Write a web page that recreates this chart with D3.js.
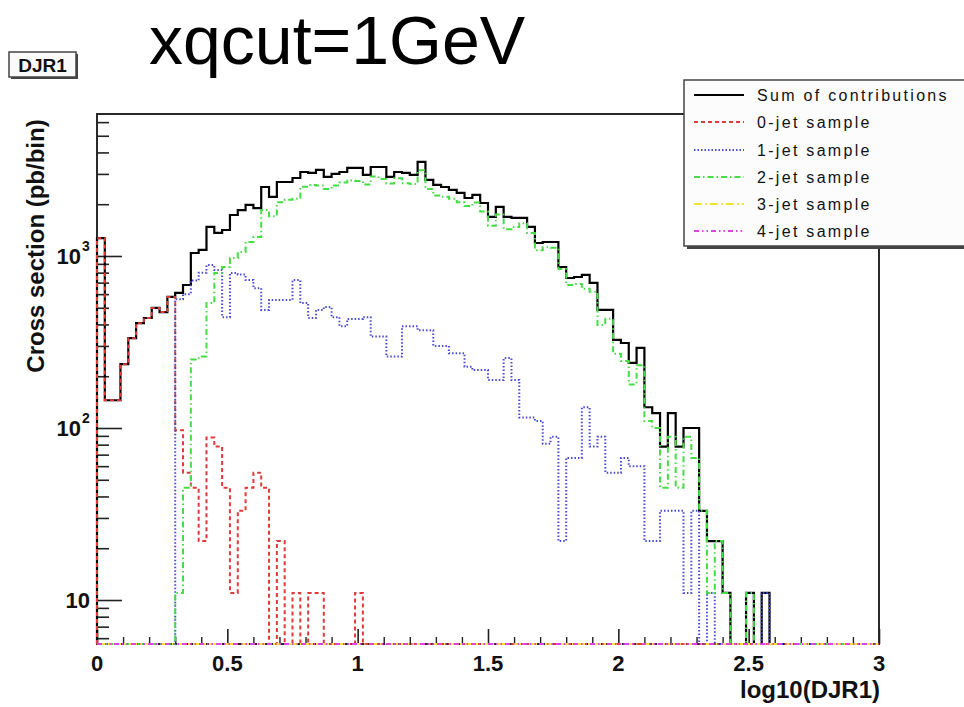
<!DOCTYPE html>
<html>
<head>
<meta charset="utf-8">
<script src="https://cdn.jsdelivr.net/npm/d3@7"></script>
<style>
  html, body { margin: 0; padding: 0; background: #ffffff; }
  svg { display: block; }
  text { font-family: "Liberation Sans", Arial, Helvetica, sans-serif; }
</style>
</head>
<body>
<svg id="chart" width="964" height="707"></svg>
<script>
// ---------------- DATA ----------------
const chartTitle = "xqcut=1GeV";
const histName = "DJR1";
const xTitle = "log10(DJR1)";
const yTitle = "Cross section (pb/bin)";
const xRange = [0, 3];
const binWidth = 0.03;           // 100 bins between 0 and 3
const xMajorTicks = [0, 0.5, 1, 1.5, 2, 2.5, 3];
const xTickLabels = ["0", "0.5", "1", "1.5", "2", "2.5", "3"];
const yMajorTicks = [10, 100, 1000];
const yTickBase = ["10", "10", "10"];
const yTickExp = ["", "2", "3"];
const seriesNames = ["Sum of contributions", "0-jet sample", "1-jet sample", "2-jet sample", "3-jet sample", "4-jet sample"];

const sumValues = [
  1270, 145, 145, 235, 333, 407, 436, 499, 472, 578,
  610, 678, 1041, 1084, 1475, 1361, 1416, 1731, 1850, 1981,
  1900, 2518, 2204, 2692, 2692, 2840, 3078, 3040, 3163, 2880,
  2999, 3078, 3250, 3250, 2958, 3290, 3290, 2880, 3078, 3040,
  2958, 3523, 2768, 2589, 2518, 2421, 2325, 2173, 2263, 2032,
  1686, 1928, 1686, 1664, 1664, 1475, 1190, 1206, 1206, 863,
  745, 755, 776, 697, 486, 486, 325, 312, 239, 292,
  132, 122, 78, 122, 78, 100, 100, 33, 22, 22,
  11, 0, 0, 11, 0, 11, 0, 0, 0, 0,
  0, 0, 0, 0, 0, 0, 0, 0, 0, 0
];
const jet0Values = [
  1270, 145, 145, 235, 333, 407, 436, 499, 472, 578,
  97, 55, 45, 22, 88, 78, 45, 11, 33, 45,
  55, 45, 0, 22, 0, 11, 0, 11, 11, 0,
  0, 0, 0, 11, 0, 0, 0, 0, 0, 0,
  0, 0, 0, 0, 0, 0, 0, 0, 0, 0,
  0, 0, 0, 0, 0, 0, 0, 0, 0, 0,
  0, 0, 0, 0, 0, 0, 0, 0, 0, 0,
  0, 0, 0, 0, 0, 0, 0, 0, 0, 0,
  0, 0, 0, 0, 0, 0, 0, 0, 0, 0,
  0, 0, 0, 0, 0, 0, 0, 0, 0, 0
];
const jet1Values = [
  0, 0, 0, 0, 0, 0, 0, 0, 0, 0,
  560, 600, 720, 800, 885, 830, 441, 796, 780, 725,
  650, 486, 555, 555, 555, 725, 533, 436, 486, 505,
  441, 390, 430, 430, 441, 340, 340, 260, 260, 390,
  390, 370, 370, 300, 300, 272, 272, 227, 217, 217,
  190, 190, 255, 190, 115, 115, 110, 81, 89, 22,
  67, 67, 132, 78, 89, 55, 55, 67, 60, 60,
  22, 22, 33, 33, 33, 11, 33, 0, 11, 0,
  0, 0, 0, 0, 0, 11, 0, 0, 0, 0,
  0, 0, 0, 0, 0, 0, 0, 0, 0, 0
];
const jet2Values = [
  0, 0, 0, 0, 0, 0, 0, 0, 0, 0,
  11, 45, 250, 260, 533, 796, 863, 973, 1055, 1206,
  1290, 1850, 1700, 2050, 2120, 2150, 2530, 2590, 2570, 2450,
  2570, 2670, 2750, 2730, 2600, 2900, 2800, 2640, 2830, 2650,
  2620, 3150, 2450, 2250, 2210, 2150, 2050, 1950, 2045, 1815,
  1500, 1740, 1430, 1475, 1550, 1360, 1080, 1125, 1117, 841,
  678, 688, 644, 619, 397, 431, 270, 245, 179, 232,
  110, 100, 45, 89, 45, 89, 67, 33, 11, 22,
  11, 0, 0, 11, 0, 0, 0, 0, 0, 0,
  0, 0, 0, 0, 0, 0, 0, 0, 0, 0
];
const jet3Values = [
  0, 0, 0, 0, 0, 0, 0, 0, 0, 0,
  0, 0, 0, 0, 0, 0, 0, 0, 0, 0,
  0, 0, 0, 0, 0, 0, 0, 0, 0, 0,
  0, 0, 0, 0, 0, 0, 0, 0, 0, 0,
  0, 0, 0, 0, 0, 0, 0, 0, 0, 0,
  0, 0, 0, 0, 0, 0, 0, 0, 0, 0,
  0, 0, 0, 0, 0, 0, 0, 0, 0, 0,
  0, 0, 0, 0, 0, 0, 0, 0, 0, 0,
  0, 0, 0, 0, 0, 0, 0, 0, 0, 0,
  0, 0, 0, 0, 0, 0, 0, 0, 0, 0
];
const jet4Values = [
  0, 0, 0, 0, 0, 0, 0, 0, 0, 0,
  0, 0, 0, 0, 0, 0, 0, 0, 0, 0,
  0, 0, 0, 0, 0, 0, 0, 0, 0, 0,
  0, 0, 0, 0, 0, 0, 0, 0, 0, 0,
  0, 0, 0, 0, 0, 0, 0, 0, 0, 0,
  0, 0, 0, 0, 0, 0, 0, 0, 0, 0,
  0, 0, 0, 0, 0, 0, 0, 0, 0, 0,
  0, 0, 0, 0, 0, 0, 0, 0, 0, 0,
  0, 0, 0, 0, 0, 0, 0, 0, 0, 0,
  0, 0, 0, 0, 0, 0, 0, 0, 0, 0
];

// ---------------- STYLE ----------------
const styles = [
  { color: "#000000", width: 2.2, dash: null },
  { color: "#e03a3a", width: 2, dash: "4,3" },
  { color: "#4a4ad8", width: 2, dash: "1.5,2" },
  { color: "#44dd44", width: 2, dash: "6,3,1.5,3" },
  { color: "#f0e43a", width: 2, dash: "8,3,2,3" },
  { color: "#dd44dd", width: 2, dash: "5,3,1.5,3,1.5,3" }
];
const allSeries = [sumValues, jet0Values, jet1Values, jet2Values, jet3Values, jet4Values];

const frame = { left: 97, right: 879, top: 114, bottom: 644 };

const svg = d3.select("#chart");
svg.append("rect").attr("x", 0).attr("y", 0).attr("width", 964).attr("height", 707).attr("fill", "#ffffff");

const x = d3.scaleLinear().domain(xRange).range([frame.left, frame.right]);
const y = d3.scaleLog().domain([5.55, 6690]).range([frame.bottom, frame.top]);

// histogram step path; empty bins drop to the bottom of the frame
function histPath(values) {
  const p = d3.path();
  const yb = frame.bottom;
  p.moveTo(x(xRange[0]), yb);
  values.forEach((v, i) => {
    const lo = xRange[0] + i * binWidth, hi = lo + binWidth;
    const yy = v > 0 ? Math.max(frame.top, Math.min(yb, y(v))) : yb;
    p.lineTo(x(lo), yy);
    p.lineTo(x(hi), yy);
  });
  p.lineTo(x(xRange[1]), yb);
  return p.toString();
}

// frame
svg.append("rect")
  .attr("x", frame.left).attr("y", frame.top)
  .attr("width", frame.right - frame.left).attr("height", frame.bottom - frame.top)
  .attr("fill", "none").attr("stroke", "#2a2a2a").attr("stroke-width", 2);

// y axis ticks (inside the frame)
const yMinor = y.ticks().filter(t => yMajorTicks.indexOf(t) < 0);
svg.append("g").attr("transform", `translate(${frame.left},0)`)
  .call(d3.axisLeft(y).tickValues(yMinor).tickSize(-12).tickFormat(""))
  .call(g => g.select(".domain").remove())
  .call(g => g.selectAll("line").attr("stroke", "#222").attr("stroke-width", 1.6));
svg.append("g").attr("transform", `translate(${frame.left},0)`)
  .call(d3.axisLeft(y).tickValues(yMajorTicks).tickSize(-25).tickFormat(""))
  .call(g => g.select(".domain").remove())
  .call(g => g.selectAll("line").attr("stroke", "#222").attr("stroke-width", 1.6));

// x axis ticks (inside, pointing up)
const xMinor = x.ticks(30).filter(t => xMajorTicks.indexOf(+t.toFixed(2)) < 0);
svg.append("g").attr("transform", `translate(0,${frame.bottom})`)
  .call(d3.axisBottom(x).tickValues(xMinor).tickSize(-7).tickFormat(""))
  .call(g => g.select(".domain").remove())
  .call(g => g.selectAll("line").attr("stroke", "#222").attr("stroke-width", 1.4));
svg.append("g").attr("transform", `translate(0,${frame.bottom})`)
  .call(d3.axisBottom(x).tickValues(xMajorTicks).tickSize(-15).tickFormat(""))
  .call(g => g.select(".domain").remove())
  .call(g => g.selectAll("line").attr("stroke", "#222").attr("stroke-width", 1.6));

// histograms
allSeries.forEach((vals, k) => {
  const s = styles[k];
  const path = svg.append("path")
    .attr("d", histPath(vals))
    .attr("fill", "none")
    .attr("stroke", s.color)
    .attr("stroke-width", s.width)
    .attr("stroke-linejoin", "miter");
  if (s.dash) path.attr("stroke-dasharray", s.dash);
});

// x tick labels
svg.append("g").selectAll("text").data(xMajorTicks).join("text")
  .attr("x", d => x(d)).attr("y", 671)
  .attr("text-anchor", "middle")
  .attr("font-size", 22).attr("font-weight", "bold").attr("fill", "#111")
  .text((d, i) => xTickLabels[i]);

// y tick labels with superscripts
yMajorTicks.forEach((t, i) => {
  const yy = y(t);
  if (yTickExp[i]) {
    svg.append("text").attr("x", 81).attr("y", yy + 8)
      .attr("text-anchor", "end").attr("font-size", 22).attr("font-weight", "bold").attr("fill", "#111")
      .text(yTickBase[i]);
    svg.append("text").attr("x", 82).attr("y", yy - 5)
      .attr("text-anchor", "start").attr("font-size", 14).attr("font-weight", "bold").attr("fill", "#111")
      .text(yTickExp[i]);
  } else {
    svg.append("text").attr("x", 90).attr("y", yy + 8)
      .attr("text-anchor", "end").attr("font-size", 22).attr("font-weight", "bold").attr("fill", "#111")
      .text(yTickBase[i]);
  }
});

// axis titles
svg.append("text").attr("x", 880).attr("y", 698)
  .attr("text-anchor", "end").attr("font-size", 24).attr("font-weight", "bold").attr("fill", "#111")
  .text(xTitle);
svg.append("text")
  .attr("transform", "translate(44,246) rotate(-90)")
  .attr("text-anchor", "middle").attr("font-size", 24).attr("font-weight", "bold").attr("fill", "#111")
  .text(yTitle);

// legend box with shadow
const lg = { x: 684, y: 80, w: 300, h: 166 };
svg.append("rect").attr("x", lg.x + 3).attr("y", lg.y + 3).attr("width", lg.w).attr("height", lg.h).attr("fill", "#444");
svg.append("rect").attr("x", lg.x).attr("y", lg.y).attr("width", lg.w).attr("height", lg.h)
  .attr("fill", "#fcfcfc").attr("stroke", "#444").attr("stroke-width", 1.5);
const rowY = [95, 122, 150, 177, 204, 231];
seriesNames.forEach((name, k) => {
  const s = styles[k];
  const l = svg.append("line").attr("x1", 694).attr("x2", 744).attr("y1", rowY[k]).attr("y2", rowY[k])
    .attr("stroke", s.color).attr("stroke-width", k === 0 ? 2 : 1.8);
  if (s.dash) l.attr("stroke-dasharray", s.dash);
  svg.append("text").attr("x", 757).attr("y", rowY[k] + 6)
    .attr("font-size", 16).attr("letter-spacing", "2.3px").attr("fill", "#111")
    .text(name);
});

// histogram name box with shadow
svg.append("rect").attr("x", 11).attr("y", 54).attr("width", 67).attr("height", 25).attr("fill", "#444");
svg.append("rect").attr("x", 9).attr("y", 52).attr("width", 67).attr("height", 25)
  .attr("fill", "#fafafa").attr("stroke", "#444").attr("stroke-width", 1.5);
svg.append("text").attr("x", 42.5).attr("y", 71.5)
  .attr("text-anchor", "middle").attr("font-size", 19).attr("font-weight", "bold").attr("fill", "#111")
  .text(histName);

// big title
svg.append("text").attr("x", 149).attr("y", 64)
  .attr("font-size", 68).attr("fill", "#000")
  .text(chartTitle);
</script>
</body>
</html>
